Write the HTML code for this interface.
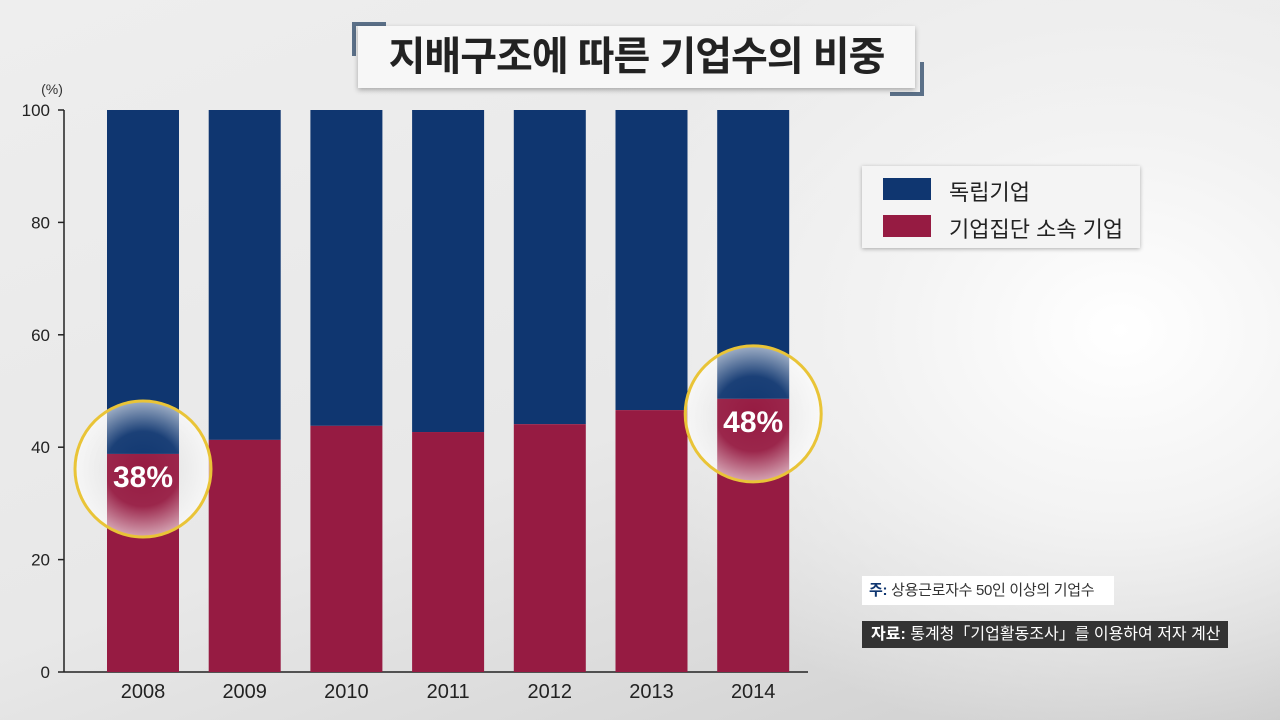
<!DOCTYPE html>
<html><head><meta charset="utf-8"><style>
body{margin:0}
#root{position:relative;width:1280px;height:720px;overflow:hidden;font-family:"Liberation Sans","Noto Sans CJK KR",sans-serif;
background:radial-gradient(ellipse 520px 420px at 1120px 330px,#ffffff 0%,#f3f3f3 45%,rgba(230,230,230,0) 100%),linear-gradient(160deg,#eeeeee 0%,#e8e8e8 55%,#cdcdcd 100%);}
.abs{position:absolute}
</style></head><body>
<div id="root">
<div class="abs" style="left:352px;top:22px;width:30px;height:30px;border-left:4px solid #5b7088;border-top:4px solid #5b7088"></div>
<div class="abs" style="left:890px;top:62px;width:30px;height:30px;border-right:4px solid #5b7088;border-bottom:4px solid #5b7088"></div>
<div class="abs" style="left:358px;top:26px;width:557px;height:62px;background:#f7f7f7;box-shadow:0 2px 5px rgba(0,0,0,.3);text-align:center;line-height:62px;font-size:40px;font-weight:bold;color:#222;letter-spacing:-1px">지배구조에 따른 기업수의 비중</div>
<svg class="abs" style="left:0;top:0" width="1280" height="720">
<defs>
<radialGradient id="glow"><stop offset="0" stop-color="#fff" stop-opacity="0"/><stop offset="0.55" stop-color="#fff" stop-opacity="0.05"/><stop offset="1" stop-color="#fff" stop-opacity="0.6"/></radialGradient>
</defs>
<g id="g"></g>
</svg>
<div class="abs" style="left:862px;top:166px;width:278px;height:82px;background:#f4f4f4;box-shadow:0 1px 4px rgba(0,0,0,.3)">
<div class="abs" style="left:21px;top:12px;width:48px;height:22px;background:#0f3670"></div>
<div class="abs" style="left:87px;top:9px;font-size:22px;color:#222">독립기업</div>
<div class="abs" style="left:21px;top:49px;width:48px;height:22px;background:#961b42"></div>
<div class="abs" style="left:87px;top:46px;font-size:22px;color:#222">기업집단 소속 기업</div>
</div>
<div class="abs" style="left:862px;top:576px;width:252px;height:29px;background:#fff;font-size:15px;line-height:29px;color:#333;padding-left:7px;box-sizing:border-box;white-space:nowrap;overflow:hidden;letter-spacing:-0.3px"><b style="color:#0f3670">주:</b> 상용근로자수 50인 이상의 기업수</div>
<div class="abs" style="left:862px;top:621px;width:366px;height:27px;background:#333;font-size:16px;line-height:27px;color:#fff;padding-left:9px;box-sizing:border-box;white-space:nowrap;overflow:hidden"><b>자료:</b> 통계청「기업활동조사」를 이용하여 저자 계산</div>
</div>
<script>
const years=["2008","2009","2010","2011","2012","2013","2014"];
const groupShare=[38.8,41.3,43.8,42.7,44.1,46.6,48.6];
const yTicks=[0,20,40,60,80,100];
const highlights=[{i:0,label:"38%"},{i:6,label:"48%"}];
const NS="http://www.w3.org/2000/svg";
const g=document.getElementById("g");
const y=v=>672-v*5.62;
const x=i=>107+i*101.7;
const bw=72;
function mk(t,a){const e=document.createElementNS(NS,t);for(const k in a)e.setAttribute(k,a[k]);g.appendChild(e);return e;}
let e=mk("line",{x1:64,y1:110,x2:64,y2:672,stroke:"#222","stroke-width":1.5});


e=mk("line",{x1:64,y1:672,x2:808,y2:672,stroke:"#222","stroke-width":1.5});


e=mk("text",{x:52,y:94,"font-size":14,fill:"#333","text-anchor":"middle"});e.textContent="(%)";


yTicks.forEach(t=>{
 const l=mk("line",{x1:58,y1:y(t),x2:64,y2:y(t),stroke:"#222","stroke-width":1.5});
 
 
 const tx=mk("text",{x:50,y:y(t)+6,"font-size":17,fill:"#222","text-anchor":"end"});tx.textContent=t;
 
 
});
years.forEach((yr,i)=>{
 const b1=mk("rect",{x:x(i),y:y(100),width:bw,height:y(groupShare[i])-y(100),fill:"#0f3670"});
 
 
 const b2=mk("rect",{x:x(i),y:y(groupShare[i]),width:bw,height:y(0)-y(groupShare[i]),fill:"#961b42"});
 
 
 const tx=mk("text",{x:x(i)+bw/2,y:698,"font-size":20,fill:"#222","text-anchor":"middle"});tx.textContent=yr;
 
 
});
highlights.forEach(h=>{
 const cx=x(h.i)+bw/2, cy=y(groupShare[h.i])+15;
 const c=mk("circle",{cx:cx,cy:cy,r:68,fill:"url(#glow)",stroke:"#e9c437","stroke-width":3});
 
 
 const t=mk("text",{x:cx,y:y(groupShare[h.i])+33,"font-size":30,"font-weight":"bold",fill:"#fff","text-anchor":"middle"});t.textContent=h.label;
 
 
});
</script>
</body></html>
